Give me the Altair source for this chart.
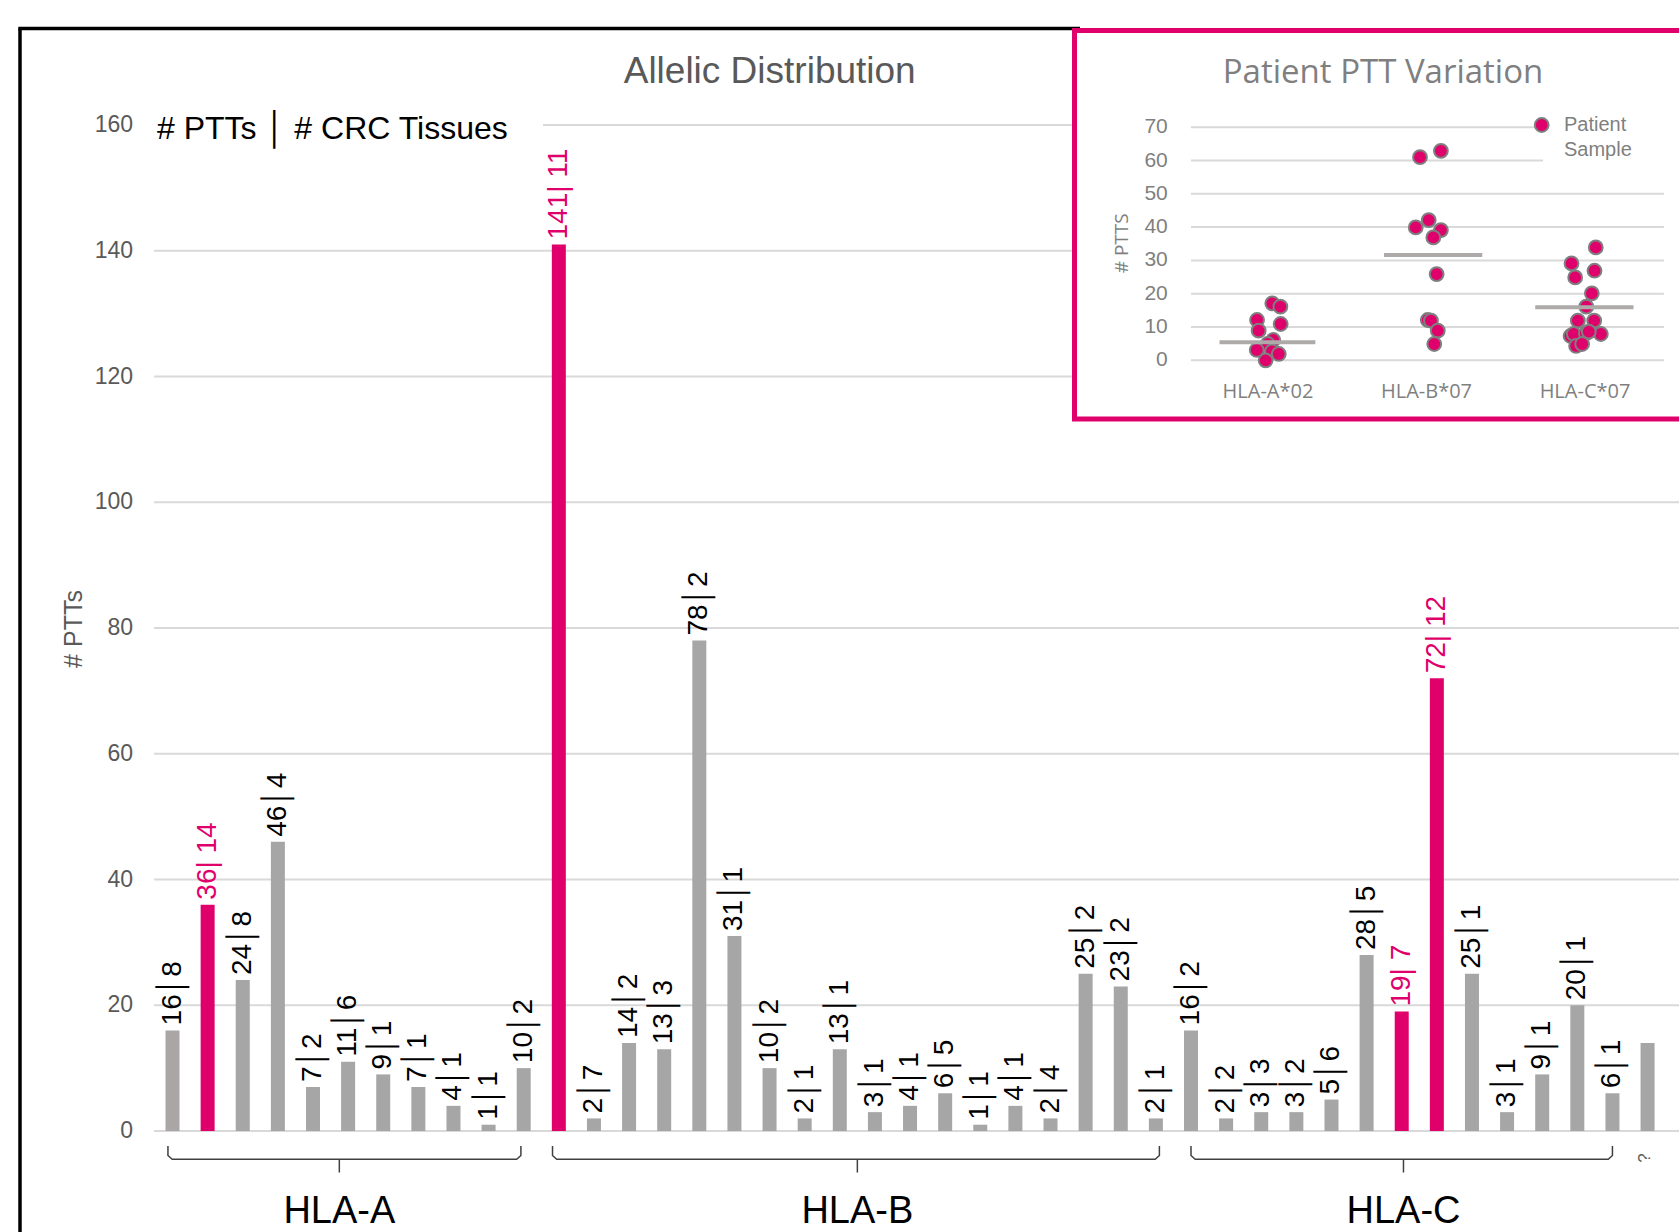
import altair as alt
import pandas as pd

# ---------------- main chart data ----------------
group_names = ["HLA-A", "HLA-B", "HLA-C"]
ptts_a = [16, 36, 24, 46, 7, 11, 9, 7, 4, 1, 10]
tissues_a = [8, 14, 8, 4, 2, 6, 1, 1, 1, 1, 2]
ptts_b = [141, 2, 14, 13, 78, 31, 10, 2, 13, 3, 4, 6, 1, 4, 2, 25, 23, 2]
tissues_b = [11, 7, 2, 3, 2, 1, 2, 1, 1, 1, 1, 5, 1, 1, 4, 2, 2, 1]
ptts_c = [16, 2, 3, 3, 5, 28, 19, 72, 25, 3, 9, 20, 6]
tissues_c = [2, 2, 3, 2, 6, 5, 7, 12, 1, 1, 1, 1, 1]
ptts_unknown = [14]
highlighted = [1, 11, 35, 36]          # bar indices drawn in magenta
y_ticks = [0, 20, 40, 60, 80, 100, 120, 140, 160]
bracket_start = [-0.13, 10.82, 29.0]    # bar-index units
bracket_end = [9.92, 28.1, 41.0]
group_mid = [4.75, 19.5, 35.05]

# ---------------- inset data ----------------
inset_groups = ["HLA-A*02", "HLA-B*07", "HLA-C*07"]
inset_a = [17.1, 16.1, 12.1, 10.9, 8.9, 6.1, 4.9, 3.1, 2.7, 1.9, 0.0]
jitter_a = [0.027, 0.078, -0.069, 0.080, -0.059, 0.033, -0.002, -0.071, 0.025, 0.068, -0.015]
inset_b = [61.0, 62.9, 39.9, 42.1, 39.1, 36.9, 25.9, 12.1, 11.9, 8.9, 4.9]
jitter_b = [-0.041, 0.091, -0.068, 0.014, 0.091, 0.043, 0.064, 0.008, 0.028, 0.071, 0.049]
inset_c = [33.9, 29.1, 26.9, 24.9, 20.1, 16.1, 11.9, 11.9, 7.3, 7.9, 8.1, 7.9, 4.3, 4.9, 8.6]
jitter_c = [0.068, -0.085, 0.060, -0.062, 0.043, 0.008, -0.045, 0.058, -0.091, -0.071,
            0.005, 0.100, -0.056, -0.018, 0.024]
inset_means = [5.4, 31.6, 15.9]
mean_from = [-0.306, -0.268, -0.314]
mean_to = [0.299, 0.352, 0.306]
inset_ticks = [0, 10, 20, 30, 40, 50, 60, 70]
inset_grid_end = [2.498, 2.498, 2.498, 2.498, 2.498, 2.498, 1.735, 1.695]
inset_grid_start = -0.486

PINK = "#E0006B"
GREY = "#A6A6A6"
TXT = "#595959"
LGREY = "#7F7F7F"

# plot-area geometry (pixels)
PL, PT, W, H = 154, 125, 1525, 1006

# ---------------- build tables ----------------
ptts = ptts_a + ptts_b + ptts_c + ptts_unknown
tissues = tissues_a + tissues_b + tissues_c + [None]
n = len(ptts)
bars = pd.DataFrame({"idx": list(range(n)), "ptts": ptts, "tissues": tissues})
bars["hl"] = ["yes" if i in highlighted else "no" for i in bars.idx]
bars["kind"] = ["hl" if i in highlighted else ("first" if i == 0 else "base") for i in bars.idx]
labels = bars[bars.tissues.notna()].copy()
labels["label"] = [
    (f"{p}| {int(t)}" if h == "yes" else f"{p}\u2502{int(t)}")
    for p, t, h in zip(labels.ptts, labels.tissues, labels.hl)
]
ticks_df = pd.DataFrame({"t": y_ticks, "lab": [str(t) for t in y_ticks]})

xs = alt.Scale(domain=[-0.527, 42.895], nice=False, zero=False, padding=0)
ys = alt.Scale(domain=[0, 160], nice=False, zero=False, padding=0)

one = pd.DataFrame({"a": [0]})

grid_layer = alt.Chart(ticks_df).mark_rule(color="#D9D9D9", strokeWidth=2).encode(
    x=alt.value(0), x2=alt.value(W),
    y=alt.Y("t:Q", scale=ys, axis=None),
)
tick_label_layer = alt.Chart(ticks_df).mark_text(
    align="right", baseline="middle", fontSize=23, font="Liberation Sans", color=TXT
).encode(
    x=alt.value(-21),
    y=alt.Y("t:Q", scale=ys, axis=None),
    text="lab:N",
)

bar_layer = alt.Chart(bars).mark_bar(size=14).encode(
    x=alt.X("idx:Q", scale=xs, axis=None),
    y=alt.Y("ptts:Q", scale=ys, axis=None),
    color=alt.Color("kind:N", scale=alt.Scale(domain=["base", "first", "hl"],
                                              range=[GREY, "#AAA6A6", PINK]), legend=None),
)

label_layer = alt.Chart(labels).mark_text(
    angle=270, align="left", baseline="middle", dx=5, fontSize=28, font="Liberation Sans"
).encode(
    x=alt.X("idx:Q", scale=xs, axis=None),
    y=alt.Y("ptts:Q", scale=ys, axis=None),
    text="label:N",
    color=alt.condition("datum.hl == 'yes'", alt.value(PINK), alt.value("#000000")),
)

# brackets
br_rows = []
TOP, HOR, TICK = -2.4, -4.5, -6.6
for g, (s, e) in enumerate(zip(bracket_start, bracket_end)):
    pts = [(s, TOP), (s, HOR + 0.6), (s + 0.12, HOR), (e - 0.12, HOR), (e, HOR + 0.6), (e, TOP)]
    for k, (xx, yy) in enumerate(pts):
        br_rows.append({"g": group_names[g], "o": k, "bx": xx, "by": yy})
br = pd.DataFrame(br_rows)
bracket_layer = alt.Chart(br).mark_line(color="#404040", strokeWidth=1.5).encode(
    x=alt.X("bx:Q", scale=xs, axis=None),
    y=alt.Y("by:Q", scale=ys, axis=None),
    detail="g:N", order="o:Q",
)
mids = pd.DataFrame({"g": group_names, "m": group_mid, "y1": [HOR] * 3, "y2": [TICK] * 3})
mid_layer = alt.Chart(mids).mark_rule(color="#404040", strokeWidth=1.5).encode(
    x=alt.X("m:Q", scale=xs, axis=None),
    y=alt.Y("y1:Q", scale=ys, axis=None), y2="y2:Q",
)
group_label_layer = alt.Chart(mids).mark_text(
    fontSize=38, font="Liberation Sans", color="#000000", baseline="alphabetic"
).encode(
    x=alt.X("m:Q", scale=xs, axis=None),
    y=alt.value(1222.7 - PT),
    text="g:N",
)
q_layer = alt.Chart(one).mark_text(
    text="?", fontSize=17, font="Liberation Sans", color=TXT, angle=270,
    align="center", baseline="middle"
).encode(x=alt.value(1645 - PL), y=alt.value(1158 - PT))

# frame and titles
frame_left = alt.Chart(one).mark_rule(color="#000000", strokeWidth=3.5).encode(
    x=alt.value(20 - PL), y=alt.value(28.5 - PT), y2=alt.value(1240 - PT))
frame_top = alt.Chart(one).mark_rule(color="#000000", strokeWidth=3.5).encode(
    x=alt.value(18.3 - PL), x2=alt.value(1080 - PL), y=alt.value(28.5 - PT))
header_bg = alt.Chart(one).mark_rect(color="white").encode(
    x=alt.value(140 - PL), x2=alt.value(543 - PL), y=alt.value(108 - PT), y2=alt.value(142 - PT))
header = alt.Chart(one).mark_text(
    text="# PTTs \u2502 # CRC Tissues", fontSize=32, font="Liberation Sans", color="#000000",
    align="left", baseline="alphabetic"
).encode(x=alt.value(157 - PL), y=alt.value(139.3 - PT))
main_title = alt.Chart(one).mark_text(
    text="Allelic Distribution", fontSize=37, font="Liberation Sans", color=TXT,
    align="center", baseline="alphabetic"
).encode(x=alt.value(769.7 - PL), y=alt.value(83.3 - PT))
y_title = alt.Chart(one).mark_text(
    text="# PTTs", fontSize=25, font="Liberation Sans", color=TXT, angle=270,
    align="center", baseline="alphabetic"
).encode(x=alt.value(81.7 - PL), y=alt.value(629 - PT))

main = alt.layer(frame_left, frame_top, grid_layer, tick_label_layer, bar_layer, label_layer,
                 header_bg, header, main_title, y_title, bracket_layer, mid_layer,
                 group_label_layer, q_layer)

# ---------------- inset ----------------
ixs = alt.Scale(domain=[0, 1], range=[1268 - PL, 1268 - PL + 158.5], nice=False, zero=False)
iys = alt.Scale(domain=[0, 70], range=[360.3 - PT, 360.3 - PT - 233.1], nice=False, zero=False)

pts_rows = []
for g, (vals, jit) in enumerate([(inset_a, jitter_a), (inset_b, jitter_b), (inset_c, jitter_c)]):
    for v, j in zip(vals, jit):
        pts_rows.append({"grp": inset_groups[g], "px": g + j, "pv": v})
pts = pd.DataFrame(pts_rows)
means = pd.DataFrame({
    "grp": inset_groups, "mv": inset_means,
    "m0": [i + a for i, a in enumerate(mean_from)],
    "m1": [i + b for i, b in enumerate(mean_to)],
})
grid = pd.DataFrame({"t": inset_ticks, "g0": [inset_grid_start] * len(inset_ticks),
                     "g1": inset_grid_end, "lab": [str(t) for t in inset_ticks]})
xlab = pd.DataFrame({"gi": [0, 1, 2], "name": inset_groups})

inset_box = alt.Chart(one).mark_rect(fill="white", stroke=PINK, strokeWidth=5).encode(
    x=alt.value(1074.5 - PL), x2=alt.value(1700 - PL), y=alt.value(30.5 - PT), y2=alt.value(419 - PT))
inset_grid = alt.Chart(grid).mark_rule(color="#D9D9D9", strokeWidth=2).encode(
    x=alt.X("g0:Q", scale=ixs, axis=None), x2="g1:Q",
    y=alt.Y("t:Q", scale=iys, axis=None))
inset_ylab = alt.Chart(grid).mark_text(
    align="right", baseline="middle", fontSize=21, font="Liberation Sans", color=LGREY
).encode(x=alt.value(1167.8 - PL), y=alt.Y("t:Q", scale=iys, axis=None), text="lab:N")
inset_xlab = alt.Chart(xlab).mark_text(
    align="center", baseline="middle", fontSize=20, font="Open Sans", color=LGREY
).encode(x=alt.X("gi:Q", scale=ixs, axis=None), y=alt.value(391.7 - PT), text="name:N")
inset_title = alt.Chart(one).mark_text(
    text="Patient PTT Variation", fontSize=33, font="Open Sans", color=LGREY,
    align="center", baseline="alphabetic"
).encode(x=alt.value(1383 - PL), y=alt.value(83.3 - PT))
inset_ytitle = alt.Chart(one).mark_text(
    text="# PTTS", fontSize=19, font="Open Sans", color=LGREY, angle=270,
    align="center", baseline="middle"
).encode(x=alt.value(1122.4 - PL), y=alt.value(243.3 - PT))
inset_pts = alt.Chart(pts).mark_point(
    shape="circle", filled=True, size=190, fill=PINK, stroke="#7F7F7F", strokeWidth=2, opacity=1
).encode(x=alt.X("px:Q", scale=ixs, axis=None), y=alt.Y("pv:Q", scale=iys, axis=None))
inset_mean_layer = alt.Chart(means).mark_rule(color="#AEAAAA", strokeWidth=4).encode(
    x=alt.X("m0:Q", scale=ixs, axis=None), x2="m1:Q",
    y=alt.Y("mv:Q", scale=iys, axis=None))
leg_dot = alt.Chart(one).mark_point(
    shape="circle", filled=True, size=190, fill=PINK, stroke="#7F7F7F", strokeWidth=2, opacity=1
).encode(x=alt.value(1541.7 - PL), y=alt.value(125 - PT))
leg_t1 = alt.Chart(one).mark_text(
    text="Patient", fontSize=20, font="Liberation Sans", color=LGREY, align="left", baseline="middle"
).encode(x=alt.value(1564 - PL), y=alt.value(125 - PT))
leg_t2 = alt.Chart(one).mark_text(
    text="Sample", fontSize=20, font="Liberation Sans", color=LGREY, align="left", baseline="middle"
).encode(x=alt.value(1564 - PL), y=alt.value(150 - PT))

inset = alt.layer(inset_box, inset_grid, inset_ylab, inset_xlab, inset_title, inset_ytitle,
                  inset_pts, inset_mean_layer, leg_dot, leg_t1, leg_t2)

chart = alt.layer(main, inset).resolve_scale(x="independent", y="independent").properties(
    width=W, height=H,
    autosize=alt.AutoSizeParams(type="none"),
    padding={"left": PL, "top": PT, "right": 0, "bottom": 1232 - PT - H},
    background="white",
).configure_view(strokeWidth=0)

chart.save("out.html", embed_options={"renderer": "svg", "actions": False})
